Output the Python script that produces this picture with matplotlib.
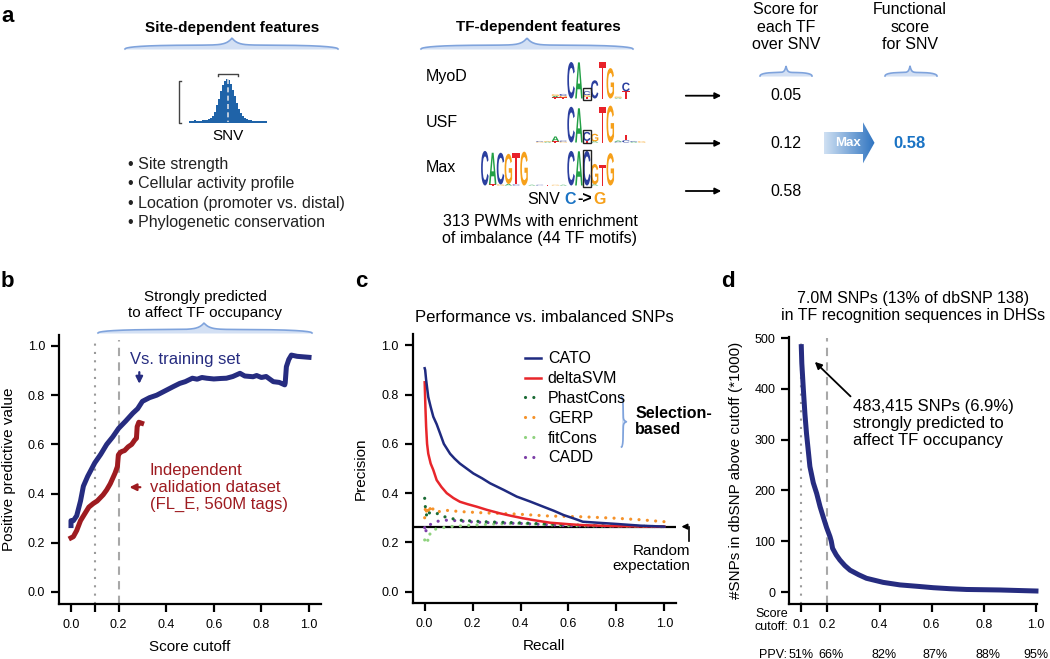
import numpy as np
import matplotlib
matplotlib.use('Agg')
import matplotlib.pyplot as plt
from matplotlib.textpath import TextPath
from matplotlib.font_manager import FontProperties
from matplotlib.patches import PathPatch, Rectangle, Polygon
from matplotlib.transforms import Affine2D
from matplotlib.colors import LinearSegmentedColormap
from matplotlib.lines import Line2D

plt.rcParams['font.family'] = 'Liberation Sans'

W, H = 1050, 659

navy = '#262c80'
dark_red = '#9e1b20'
brace_col = '#7fa3dc'
brace_fill = '#d3e0f4'

# ---------------- data ----------------
# panel a
tf_names = ['MyoD', 'USF', 'Max']
tf_scores = ['0.05', '0.12', '0.58']
functional_score = '0.58'
site_features = ['Site strength', 'Cellular activity profile',
                 'Location (promoter vs. distal)', 'Phylogenetic conservation']

# DNase peak profile around the SNV (relative height per bin)
peak_profile = [0.04, 0.05, 0.04, 0.06, 0.05, 0.04, 0.05, 0.06, 0.07, 0.06,
                0.08, 0.10, 0.15, 0.25, 0.40, 0.55, 0.72, 0.85, 0.95, 1.0,
                0.97, 0.88, 0.75, 0.60, 0.45, 0.32, 0.22, 0.15, 0.10, 0.08,
                0.07, 0.06, 0.05, 0.05, 0.04, 0.05, 0.04, 0.05, 0.04, 0.03]

# sequence logos: one dict per column, letter -> relative height
myod_logo = [
    {'A': .04, 'T': .03, 'G': .04}, {'G': .04, 'C': .05, 'T': .03},
    {'C': .96}, {'A': .95}, {'T': .04, 'G': .05, 'C': .10},
    {'C': .48}, {'T': .96}, {'G': .80}, {'A': .02, 'G': .03}, {'T': .19, 'C': .23},
]
usf_logo = [
    {'G': .02, 'C': .02}, {'A': .02, 'G': .02}, {'T': .03, 'A': .13}, {'G': .02, 'C': .03},
    {'C': .94}, {'A': .90}, {'T': .04, 'C': .24}, {'A': .03, 'G': .20},
    {'T': .94}, {'G': .97}, {'C': .02, 'A': .03}, {'C': .06, 'T': .15},
    {'A': .02, 'C': .02}, {'G': .03},
]
max_logo = [
    {'C': .96}, {'T': .03, 'A': .88}, {'G': .03, 'C': .88}, {'A': .04, 'G': .84},
    {'C': .03, 'T': .86}, {'G': .94}, {'A': .02}, {'C': .02}, {'T': .02},
    {'G': .02}, {'A': .02}, {'C': .96}, {'A': .95}, {'C': .96},
    {'A': .03, 'G': .57}, {'T': .57}, {'G': .90},
]

# panel b: positive predictive value vs score cutoff
train_x = [0.0, 0.0, 0.01, 0.024, 0.04, 0.052, 0.07, 0.1, 0.125, 0.15, 0.175, 0.2,
           0.23, 0.26, 0.28, 0.30, 0.33, 0.36, 0.38, 0.40, 0.43, 0.457, 0.48, 0.51,
           0.53, 0.55, 0.57, 0.60, 0.63, 0.653, 0.68, 0.71, 0.73, 0.765, 0.78, 0.80,
           0.82, 0.85, 0.875, 0.898, 0.90, 0.905, 0.915, 0.926, 0.95, 1.0]
train_y = [0.27, 0.29, 0.29, 0.31, 0.37, 0.43, 0.47, 0.525, 0.56, 0.60, 0.63, 0.665,
           0.695, 0.727, 0.745, 0.775, 0.79, 0.80, 0.81, 0.82, 0.835, 0.848, 0.855, 0.869,
           0.865, 0.872, 0.869, 0.866, 0.868, 0.869, 0.876, 0.889, 0.878, 0.875, 0.88, 0.872,
           0.876, 0.855, 0.852, 0.842, 0.85, 0.916, 0.945, 0.963, 0.958, 0.954]
val_x = [0.0, 0.01, 0.024, 0.04, 0.059, 0.075, 0.094, 0.11, 0.12, 0.135, 0.15, 0.165,
         0.185, 0.195, 0.199, 0.205, 0.213, 0.225, 0.24, 0.255, 0.268, 0.275, 0.278,
         0.285, 0.297]
val_y = [0.22, 0.225, 0.25, 0.29, 0.32, 0.345, 0.36, 0.37, 0.38, 0.395, 0.415, 0.44,
         0.483, 0.51, 0.557, 0.565, 0.571, 0.575, 0.59, 0.60, 0.618, 0.625, 0.672,
         0.69, 0.686]

# panel c: precision-recall
cato_x = [0.0, 0.002, 0.006, 0.015, 0.025, 0.036, 0.05, 0.064, 0.08, 0.106, 0.125, 0.147,
          0.175, 0.203, 0.24, 0.273, 0.33, 0.384, 0.44, 0.495, 0.54, 0.58, 0.62, 0.66,
          0.72, 0.80, 0.90, 1.0]
cato_y = [0.907, 0.90, 0.86, 0.79, 0.75, 0.71, 0.68, 0.643, 0.60, 0.56, 0.54, 0.52,
          0.50, 0.48, 0.46, 0.44, 0.413, 0.386, 0.366, 0.345, 0.328, 0.311, 0.298, 0.284,
          0.28, 0.275, 0.268, 0.264]
svm_x = [0.0, 0.003, 0.006, 0.01, 0.015, 0.025, 0.036, 0.05, 0.07, 0.092, 0.12, 0.147,
         0.18, 0.217, 0.26, 0.314, 0.36, 0.41, 0.47, 0.523, 0.6, 0.66, 0.8, 1.0]
svm_y = [0.85, 0.75, 0.67, 0.60, 0.56, 0.52, 0.494, 0.453, 0.425, 0.40, 0.38, 0.365,
         0.355, 0.345, 0.332, 0.318, 0.308, 0.298, 0.288, 0.28, 0.274, 0.27, 0.266, 0.264]
phast_x = [0.0, 0.004, 0.01, 0.02, 0.03, 0.05, 0.08, 0.106, 0.15, 0.245, 0.38, 0.5, 0.7, 1.0]
phast_y = [0.379, 0.33, 0.30, 0.32, 0.315, 0.318, 0.305, 0.298, 0.29, 0.284, 0.28, 0.275,
           0.268, 0.264]
gerp_x = [0.0, 0.003, 0.006, 0.01, 0.015, 0.02, 0.025, 0.03, 0.04, 0.05, 0.06, 0.08,
          0.092, 0.15, 0.245, 0.384, 0.52, 0.66, 0.80, 0.9, 1.0]
gerp_y = [0.30, 0.34, 0.32, 0.345, 0.33, 0.35, 0.325, 0.34, 0.33, 0.335, 0.325, 0.33,
          0.33, 0.325, 0.32, 0.315, 0.307, 0.304, 0.298, 0.292, 0.284]
fit_x = [0.0, 0.005, 0.01, 0.015, 0.02, 0.03, 0.05, 0.1, 0.2, 0.3, 0.4, 0.6, 1.0]
fit_y = [0.21, 0.20, 0.215, 0.205, 0.23, 0.25, 0.255, 0.264, 0.27, 0.275, 0.277, 0.268, 0.264]
cadd_x = [0.0, 0.003, 0.006, 0.01, 0.02, 0.035, 0.05, 0.08, 0.106, 0.2, 0.3, 0.4, 0.6, 1.0]
cadd_y = [0.26, 0.237, 0.25, 0.264, 0.27, 0.28, 0.285, 0.29, 0.29, 0.283, 0.279, 0.277,
          0.268, 0.264]
random_expectation = 0.264

# panel d: SNPs above cutoff (thousands)
d_x = [0.1, 0.102, 0.108, 0.114, 0.12, 0.133, 0.146, 0.159, 0.172, 0.184, 0.197, 0.21,
       0.215, 0.22, 0.234, 0.248, 0.267, 0.287, 0.32, 0.35, 0.414, 0.478, 0.55, 0.606,
       0.67, 0.734, 0.80, 0.862, 0.93, 1.0]
d_y = [483, 450, 398, 350, 312, 247, 215, 194, 168, 148, 127, 109, 100, 86, 73, 63,
       52, 43, 34, 27, 19, 14, 11, 8.5, 6.5, 5, 4.5, 4, 3, 2]
d_ticks = [0.1, 0.2, 0.4, 0.6, 0.8, 1.0]
d_ppv = ['51%', '66%', '82%', '87%', '88%', '95%']
d_ppv_pos = [0.1, 0.215, 0.417, 0.612, 0.815, 1.0]

# ---------------- helpers ----------------
logo_font = FontProperties(family='Liberation Sans', weight='bold')
base_colors = {'A': '#22a045', 'C': '#2b3f9f', 'G': '#f6a01a', 'T': '#e8212a'}


def draw_letter(ax, ch, x, y, w, h):
    tp = TextPath((0, 0), ch, size=1, prop=logo_font)
    bb = tp.get_extents()
    tr = Affine2D().translate(-bb.x0, -bb.y0).scale(w / bb.width, -h / bb.height).translate(x, y)
    ax.add_patch(PathPatch(tr.transform_path(tp), fc=base_colors[ch], ec='none', lw=0))


def draw_logo(ax, logo, x0, base, colw, full):
    for i, col in enumerate(logo):
        y = base
        for ch, v in sorted(col.items(), key=lambda kv: kv[1]):
            draw_letter(ax, ch, x0 + i * colw, y, colw * 0.96, v * full)
            y -= v * full


def brace(ax, a0, a1, ac, base, h, vertical=False):
    s = np.linspace(a0, a1, 300)
    d = np.abs(s - ac)
    half = np.where(s < ac, ac - a0, a1 - ac)
    t = np.clip(d / half, 0, 1)
    f = 0.35 * np.sqrt(1 - t ** 4) + 0.65 * np.exp(-d / (0.05 * half))
    if vertical:
        ax.fill_betweenx(s, base, base + h * f, color=brace_fill, lw=0)
        ax.plot(base + h * f, s, color=brace_col, lw=1.2)
    else:
        ax.fill_between(s, base - h * f, base, color=brace_fill, lw=0)
        ax.plot(s, base - h * f, color=brace_col, lw=1.2)


def style_axes(ax):
    for sp in ['top', 'right']:
        ax.spines[sp].set_visible(False)
    for sp in ['left', 'bottom']:
        ax.spines[sp].set_linewidth(1.6)
    ax.tick_params(direction='out', length=6, width=1.6, labelsize=9)
    ax.tick_params(axis='x', pad=5)
    ax.tick_params(axis='y', pad=4)
    ax.set_facecolor('none')


fig = plt.figure(figsize=(10.5, 6.59), dpi=100)

# overlay in pixel coordinates for the schematic parts
ov = fig.add_axes([0, 0, 1, 1])
ov.set_xlim(0, W)
ov.set_ylim(H, 0)
ov.axis('off')

# ---------------- panel a ----------------
ov.text(1, 22, 'a', fontsize=16, fontweight='bold', va='baseline')
ov.text(232, 28, 'Site-dependent features', fontsize=11, fontweight='bold', ha='center', va='center')
brace(ov, 125, 338, 232, 49, 11)

bins = np.linspace(189, 267, len(peak_profile))
ov.fill_between(bins, [122.7 - v * 44 for v in peak_profile], 122.7, step='mid',
                color='#1f63a8', lw=0)
ov.plot([227.7, 227.7], [79, 122], color='#d7dde6', lw=1.2, ls=(0, (3, 2)))
ov.plot([181, 179, 179, 181], [81, 81, 123, 123], color='#444444', lw=1)
ov.plot([218, 218, 238, 238], [76, 73.5, 73.5, 76], color='#444444', lw=1)
ov.text(227.7, 136, 'SNV', fontsize=11, ha='center', va='center')

for i, feat in enumerate(site_features):
    ov.text(128, 164 + i * 19.6, '\u2022 ' + feat, fontsize=11.5, va='center', color='#222222')

ov.text(538, 27, 'TF-dependent features', fontsize=11, fontweight='bold', ha='center', va='center')
brace(ov, 421, 633, 527, 49, 11)

colw = 7.84
for name, y in zip(tf_names, [76, 122.7, 167.7]):
    ov.text(426, y, name, fontsize=11.5, va='center')
draw_logo(ov, myod_logo, 583 - 4 * colw, 98.5, colw, 38)
draw_logo(ov, usf_logo, 583 - 6 * colw, 142.5, colw, 38)
draw_logo(ov, max_logo, 583 - 13 * colw, 185.5, colw, 36)
for top, bot in [(88, 99.5), (130, 143), (149.5, 186.5)]:
    ov.add_patch(Rectangle((582.8, top), colw + 0.4, bot - top, fill=False, ec='#222222', lw=1))

ov.text(544, 199, 'SNV', fontsize=11.5, ha='center', va='center')
ov.text(570, 199, 'C', fontsize=11.5, fontweight='bold', ha='center', va='center', color='#1a73c4')
ov.text(585, 199, '->', fontsize=11.5, fontweight='bold', ha='center', va='center')
ov.text(600, 199, 'G', fontsize=11.5, fontweight='bold', ha='center', va='center', color='#f6a01a')
ov.text(540, 230, '313 PWMs with enrichment\nof imbalance (44 TF motifs)', fontsize=11.5,
        ha='center', va='center', linespacing=1.15)

for score, y in zip(tf_scores, [95.7, 143.3, 191]):
    ov.annotate('', xy=(724, y), xytext=(683, y),
                arrowprops=dict(arrowstyle='-|>', color='black', lw=1.3, mutation_scale=9))
    ov.text(786, y, score, fontsize=11.5, ha='center', va='center')

ov.text(786, 27, 'Score for\neach TF\nover SNV', fontsize=11.5, ha='center', va='center', linespacing=1.2)
ov.text(910, 27, 'Functional\nscore\nfor SNV', fontsize=11.5, ha='center', va='center', linespacing=1.2)
brace(ov, 760, 812, 786, 76, 10)
brace(ov, 885, 937, 910, 76, 10)

# big "Max" arrow with gradient
arrow_pts = [(824, 132), (863, 132), (863, 122.3), (874.5, 142.8), (863, 163.3), (863, 154), (824, 154)]
arrow_poly = Polygon(arrow_pts, closed=True, fc='none', ec='none')
ov.add_patch(arrow_poly)
grad_cmap = LinearSegmentedColormap.from_list('g', ['#cfe0f3', '#2f74c0'])
im = ov.imshow(np.linspace(0, 1, 100).reshape(1, -1), extent=(824, 875, 164, 122),
               cmap=grad_cmap, aspect='auto', zorder=2)
im.set_clip_path(arrow_poly)
ov.set_xlim(0, W)
ov.set_ylim(H, 0)
ov.text(848, 143, 'Max', fontsize=9.5, fontweight='bold', color='white', ha='center', va='center', zorder=3)
ov.text(910, 143, functional_score, fontsize=12, fontweight='bold', color='#1a73c4', ha='center', va='center')

# ---------------- panel b ----------------
ov.text(1, 287, 'b', fontsize=16, fontweight='bold', va='baseline')
ov.text(205, 305, 'Strongly predicted\nto affect TF occupancy', fontsize=11, ha='center', va='center',
        linespacing=1.15)
brace(ov, 98, 312, 204, 333, 10)

axb = fig.add_axes([59 / W, 1 - 604 / H, 262 / W, 269 / H])
style_axes(axb)
axb.set_xlim(-0.0504, 1.0504)
axb.set_ylim(-0.0488, 1.0447)
axb.plot([0.1, 0.1], [-0.05, 1.025], color='#9a9a9a', lw=1.5, ls=(0, (1, 3)))
axb.plot([0.2, 0.2], [-0.05, 1.025], color='#a8a8a8', lw=1.5, ls=(0, (4, 3)))
axb.plot(train_x, train_y, color=navy, lw=3.6, solid_joinstyle='round')
axb.plot(val_x, val_y, color=dark_red, lw=3.6, solid_joinstyle='round')
axb.set_xticks([0, 0.1, 0.2, 0.4, 0.6, 0.8, 1.0])
axb.set_xticklabels(['0.0', '', '0.2', '0.4', '0.6', '0.8', '1.0'])
axb.set_yticks([0, 0.2, 0.4, 0.6, 0.8, 1.0])
axb.set_yticklabels(['0.0', '0.2', '0.4', '0.6', '0.8', '1.0'])
axb.set_xlabel('Score cutoff', fontsize=11)
axb.xaxis.set_label_coords(0.5, -0.134)
axb.set_ylabel('Positive predictive value', fontsize=11)
axb.yaxis.set_label_coords(-0.164, 0.5)
axb.text(0.248, 0.947, 'Vs. training set', color=navy, fontsize=12, va='center')
axb.annotate('', xy=(0.287, 0.835), xytext=(0.287, 0.905),
             arrowprops=dict(arrowstyle='-|>', color=navy, lw=1.6, mutation_scale=10))
axb.text(0.33, 0.426, 'Independent\nvalidation dataset\n(FL_E, 560M tags)', color=dark_red,
         fontsize=12, va='center', linespacing=1.17)
axb.annotate('', xy=(0.234, 0.426), xytext=(0.303, 0.426),
             arrowprops=dict(arrowstyle='-|>', color=dark_red, lw=1.6, mutation_scale=10))

# ---------------- panel c ----------------
ov.text(355, 287, 'c', fontsize=16, fontweight='bold', va='baseline')
axc = fig.add_axes([412.7 / W, 1 - 603 / H, 263.3 / W, 269 / H])
style_axes(axc)
axc.set_xlim(-0.050, 1.049)
axc.set_ylim(-0.046, 1.046)
axc.set_title('Performance vs. imbalanced SNPs', fontsize=12, pad=9)
axc.axhline(random_expectation, color='black', lw=1.6, zorder=1)
dot = (0, (0.01, 2.6))
series_c = [
    ('CATO', cato_x, cato_y, '#1f2a80', '-', 1.8),
    ('deltaSVM', svm_x, svm_y, '#e8262b', '-', 1.8),
    ('PhastCons', phast_x, phast_y, '#1a6b35', dot, 2.3),
    ('GERP', gerp_x, gerp_y, '#f5922a', dot, 2.3),
    ('fitCons', fit_x, fit_y, '#8fd27f', dot, 2.3),
    ('CADD', cadd_x, cadd_y, '#7d3fa8', dot, 2.3),
]
handles = []
for name, xs, ys, col, ls, lw in series_c[::-1]:
    axc.plot(xs, ys, color=col, ls=ls, lw=lw, dash_capstyle='round', zorder=2)
for name, xs, ys, col, ls, lw in series_c:
    handles.append(Line2D([], [], color=col, ls=ls, lw=lw, dash_capstyle='round', label=name))
axc.legend(handles=handles, loc='upper left', bbox_to_anchor=(0.425, 0.935), frameon=False,
           fontsize=11.5, handlelength=1.0, handletextpad=0.45, labelspacing=0.3,
           borderpad=0, borderaxespad=0)
axc.set_xticks([0, 0.2, 0.4, 0.6, 0.8, 1.0])
axc.set_xticklabels(['0.0', '0.2', '0.4', '0.6', '0.8', '1.0'])
axc.set_yticks([0, 0.2, 0.4, 0.6, 0.8, 1.0])
axc.set_yticklabels(['0.0', '0.2', '0.4', '0.6', '0.8', '1.0'])
axc.set_xlabel('Recall', fontsize=11)
axc.xaxis.set_label_coords(0.5, -0.134)
axc.set_ylabel('Precision', fontsize=11)
axc.yaxis.set_label_coords(-0.17, 0.5)
brace(ov, 397, 447, 421.7, 621.5, 5, vertical=True)
axc.text(0.878, 0.69, 'Selection-\nbased', fontsize=11.5, fontweight='bold', va='center',
         linespacing=1.1, clip_on=False)
axc.annotate('', xy=(1.06, random_expectation), xytext=(1.105, random_expectation),
             annotation_clip=False,
             arrowprops=dict(arrowstyle='-|>', color='black', lw=1.2, mutation_scale=8))
axc.plot([1.102, 1.102], [random_expectation, 0.205], color='black', lw=1.2, clip_on=False)
axc.text(1.107, 0.135, 'Random\nexpectation', fontsize=11, ha='right', va='center',
         linespacing=1.15, clip_on=False)

# ---------------- panel d ----------------
ov.text(721, 287, 'd', fontsize=16, fontweight='bold', va='baseline')
axd = fig.add_axes([789.3 / W, 1 - 604 / H, 259.7 / W, 267.3 / H])
style_axes(axd)
axd.set_xlim(0.054, 1.05)
axd.set_ylim(-23.6, 502.6)
axd.spines['bottom'].set_bounds(0.054, 1.005)
axd.set_title('7.0M SNPs (13% of dbSNP 138)\nin TF recognition sequences in DHSs', fontsize=11.5,
              pad=12, linespacing=1.2, x=0.476)
axd.plot([0.1, 0.1], [-23.6, 500], color='#9a9a9a', lw=1.5, ls=(0, (1, 3)))
axd.plot([0.2, 0.2], [-23.6, 500], color='#a8a8a8', lw=1.5, ls=(0, (4, 3)))
axd.plot(d_x, d_y, color=navy, lw=3.6, solid_joinstyle='round')
axd.set_xticks(d_ticks)
axd.set_xticklabels(['%.1f' % t for t in d_ticks])
axd.set_yticks([0, 100, 200, 300, 400, 500])
axd.set_ylabel('#SNPs in dbSNP above cutoff (*1000)', fontsize=11)
axd.yaxis.set_label_coords(-0.178, 0.5)
axd.text(-0.004, -0.063, 'Score\ncutoff:', transform=axd.transAxes, fontsize=9, ha='right',
         va='center', linespacing=1.1)
axd.text(-0.008, -0.19, 'PPV:', fontsize=9, ha='right', va='center',
         transform=axd.transAxes, clip_on=False)
for t, p in zip(d_ppv_pos, d_ppv):
    axd.text(t, -0.19, p, fontsize=9, ha='center', va='center',
             transform=axd.get_xaxis_transform(), clip_on=False)
axd.annotate('483,415 SNPs (6.9%)\nstrongly predicted to\naffect TF occupancy',
             xy=(0.152, 453), xytext=(0.2995, 332), fontsize=12, va='center', linespacing=1.15,
             arrowprops=dict(arrowstyle='-|>', color='black', lw=1.3, mutation_scale=10,
                             shrinkA=0, shrinkB=0, relpos=(0, 1)))

fig.savefig('out.png', dpi=100)
